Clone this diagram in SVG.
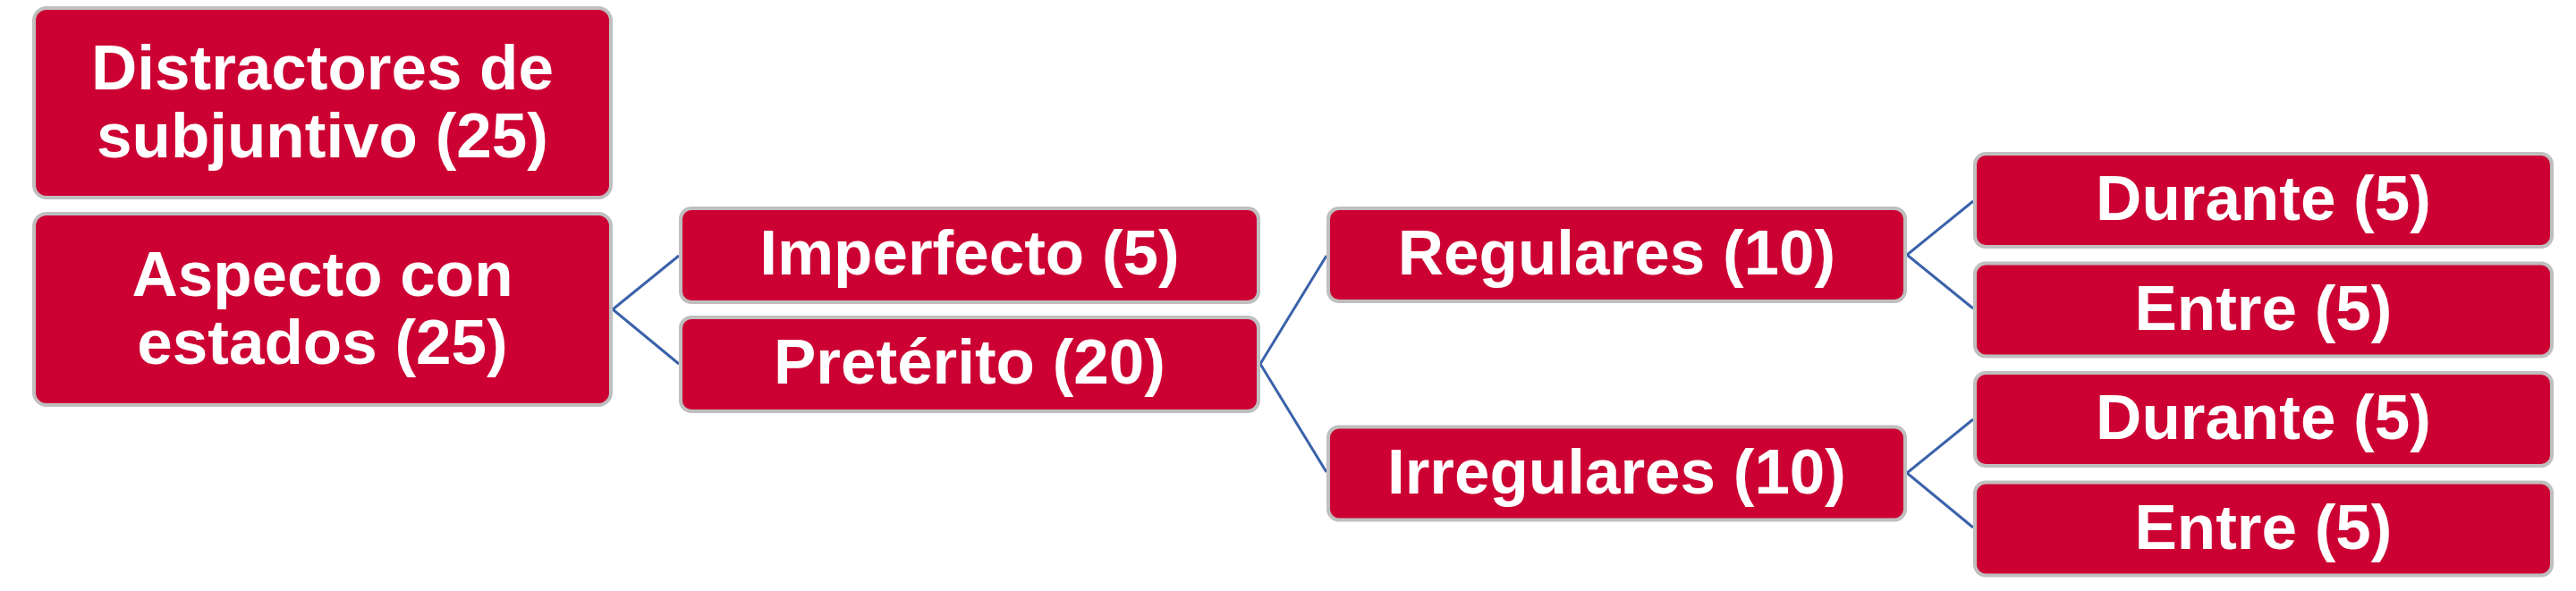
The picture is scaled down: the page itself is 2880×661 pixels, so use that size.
<svg xmlns="http://www.w3.org/2000/svg" width="2880" height="661" viewBox="0 0 2880 661">
<style>
.box{fill:#CC0033;stroke:#BFBFBF;stroke-width:4}
.lbl{font-family:"Liberation Sans",Arial,sans-serif;font-weight:bold;font-size:71px;fill:#FFFFFF;text-anchor:middle}
.conn{stroke:#3A62AA;stroke-width:3;fill:none}
</style>
<rect width="2880" height="661" fill="#FFFFFF"/>
<g id="connectors">
<polyline class="conn" points="759,286 685,346 759,407"/>
<polyline class="conn" points="1483,286 1409,407 1483,528"/>
<polyline class="conn" points="2206,225 2132,285 2206,345"/>
<polyline class="conn" points="2206,469 2132,529 2206,590"/>
</g>
<g id="node-distractores">
<rect class="box" x="38" y="9" width="645" height="212" rx="14"/>
<text class="lbl" x="360.5" y="100">Distractores de</text>
<text class="lbl" x="360.5" y="176">subjuntivo (25)</text>
</g>
<g id="node-aspecto">
<rect class="box" x="38" y="239" width="645" height="214" rx="14"/>
<text class="lbl" x="360.5" y="331">Aspecto con</text>
<text class="lbl" x="360.5" y="407">estados (25)</text>
</g>
<g id="node-imperfecto">
<rect class="box" x="761" y="233" width="646" height="105" rx="12"/>
<text class="lbl" x="1084" y="307">Imperfecto (5)</text>
</g>
<g id="node-preterito">
<rect class="box" x="761" y="355" width="646" height="105" rx="12"/>
<text class="lbl" x="1084" y="429">Pretérito (20)</text>
</g>
<g id="node-regulares">
<rect class="box" x="1485" y="233" width="645" height="104" rx="12"/>
<text class="lbl" x="1807.5" y="307">Regulares (10)</text>
</g>
<g id="node-irregulares">
<rect class="box" x="1485" y="477.5" width="645" height="104" rx="12"/>
<text class="lbl" x="1807.5" y="551.5">Irregulares (10)</text>
</g>
<g id="node-durante1">
<rect class="box" x="2208" y="172" width="645" height="104" rx="12"/>
<text class="lbl" x="2530.5" y="246">Durante (5)</text>
</g>
<g id="node-entre1">
<rect class="box" x="2208" y="294.5" width="645" height="104" rx="12"/>
<text class="lbl" x="2530.5" y="368.5">Entre (5)</text>
</g>
<g id="node-durante2">
<rect class="box" x="2208" y="417" width="645" height="104" rx="12"/>
<text class="lbl" x="2530.5" y="491">Durante (5)</text>
</g>
<g id="node-entre2">
<rect class="box" x="2208" y="539.5" width="645" height="104" rx="12"/>
<text class="lbl" x="2530.5" y="613.5">Entre (5)</text>
</g>
</svg>
